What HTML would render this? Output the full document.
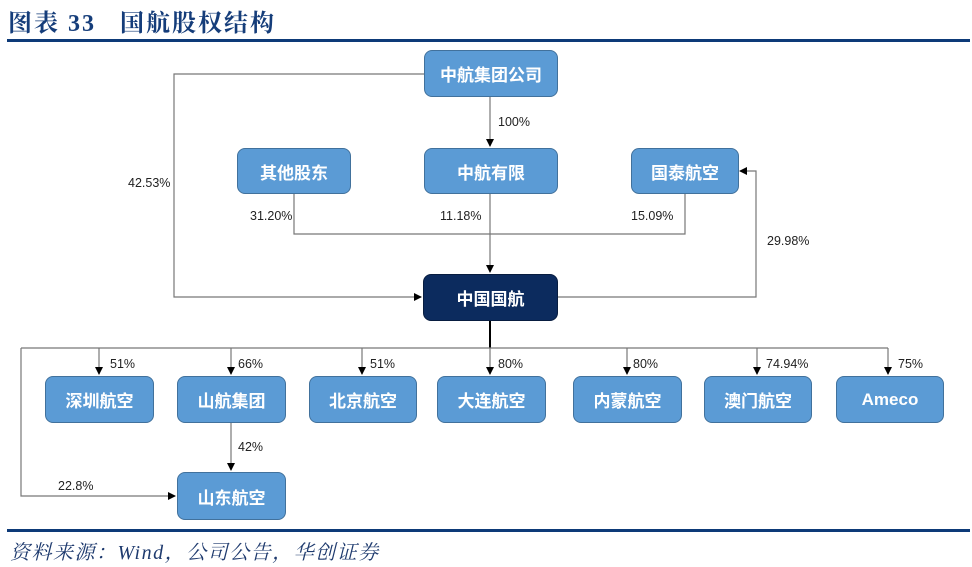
<!DOCTYPE html>
<html><head><meta charset="utf-8"><style>
body{margin:0;width:972px;height:567px;background:#fff;overflow:hidden;position:relative;font-family:"Liberation Sans","Noto Sans CJK SC",sans-serif}
.t{position:absolute;left:8px;top:3px;font:bold 24px "Liberation Serif","Noto Serif CJK SC",serif;color:#153d7a;letter-spacing:2px}
.r{position:absolute;left:7px;width:963px;height:3px;background:#0d3a78}
.b{position:absolute;box-sizing:border-box;background:#5b9bd5;border:1px solid #41719c;border-radius:8px;color:#fff;font-size:17px;font-weight:bold;display:flex;align-items:center;justify-content:center}
.l{position:absolute;font-size:12.5px;color:#222}
.s{position:absolute;left:10px;top:536px;font:italic 20px "Liberation Serif","Noto Serif CJK SC",serif;color:#1e3a6e;letter-spacing:1.5px}
</style></head><body>
<div class="t">图表 33&nbsp;&nbsp;&nbsp;国航股权结构</div>
<div class="r" style="top:39px"></div>
<svg width="972" height="567" style="position:absolute;left:0;top:0">
<defs><marker id="a" markerWidth="8" markerHeight="8" refX="7" refY="4" orient="auto" markerUnits="userSpaceOnUse"><path d="M0,0L8,4L0,8z" fill="#000"/></marker></defs>
<g fill="none" stroke="#777" stroke-width="1.2">
<path d="M424,74H174V297H421" marker-end="url(#a)"/>
<path d="M490,97V146" marker-end="url(#a)"/>
<path d="M294,194V234H685V194"/>
<path d="M490,194V272" marker-end="url(#a)"/>
<path d="M557,297H756V171H740" marker-end="url(#a)"/>
<path d="M490,320V348" stroke="#000" stroke-width="2"/>
<path d="M21,348H888"/>
<path d="M231,423V470" marker-end="url(#a)"/>
<path d="M21,348V496H175" marker-end="url(#a)"/>
</g>
<g stroke="#777" stroke-width="1.2" marker-end="url(#a)">
<path d="M99,348V374"/><path d="M231,348V374"/><path d="M362,348V374"/><path d="M490,348V374"/><path d="M627,348V374"/><path d="M757,348V374"/><path d="M888,348V374"/>
</g>
</svg>
<div class="b" style="left:424px;top:50px;width:134px;height:47px">中航集团公司</div>
<div class="b" style="left:237px;top:148px;width:114px;height:46px">其他股东</div>
<div class="b" style="left:424px;top:148px;width:134px;height:46px">中航有限</div>
<div class="b" style="left:631px;top:148px;width:108px;height:46px">国泰航空</div>
<div class="b" style="left:423px;top:274px;width:135px;height:47px;background:#0c2b5e;border-color:#081d40">中国国航</div>
<div class="b" style="left:45px;top:376px;width:109px;height:47px">深圳航空</div>
<div class="b" style="left:177px;top:376px;width:109px;height:47px">山航集团</div>
<div class="b" style="left:309px;top:376px;width:108px;height:47px">北京航空</div>
<div class="b" style="left:437px;top:376px;width:109px;height:47px">大连航空</div>
<div class="b" style="left:573px;top:376px;width:109px;height:47px">内蒙航空</div>
<div class="b" style="left:704px;top:376px;width:108px;height:47px">澳门航空</div>
<div class="b" style="left:836px;top:376px;width:108px;height:47px">Ameco</div>
<div class="b" style="left:177px;top:472px;width:109px;height:48px">山东航空</div>
<div class="l" style="left:128px;top:176px">42.53%</div>
<div class="l" style="left:498px;top:115px">100%</div>
<div class="l" style="left:250px;top:209px">31.20%</div>
<div class="l" style="left:440px;top:209px">11.18%</div>
<div class="l" style="left:631px;top:209px">15.09%</div>
<div class="l" style="left:767px;top:234px">29.98%</div>
<div class="l" style="left:110px;top:357px">51%</div>
<div class="l" style="left:238px;top:357px">66%</div>
<div class="l" style="left:370px;top:357px">51%</div>
<div class="l" style="left:498px;top:357px">80%</div>
<div class="l" style="left:633px;top:357px">80%</div>
<div class="l" style="left:766px;top:357px">74.94%</div>
<div class="l" style="left:898px;top:357px">75%</div>
<div class="l" style="left:238px;top:440px">42%</div>
<div class="l" style="left:58px;top:479px">22.8%</div>
<div class="r" style="top:529px"></div>
<div class="s">资料来源：Wind，公司公告，华创证券</div>
</body></html>
